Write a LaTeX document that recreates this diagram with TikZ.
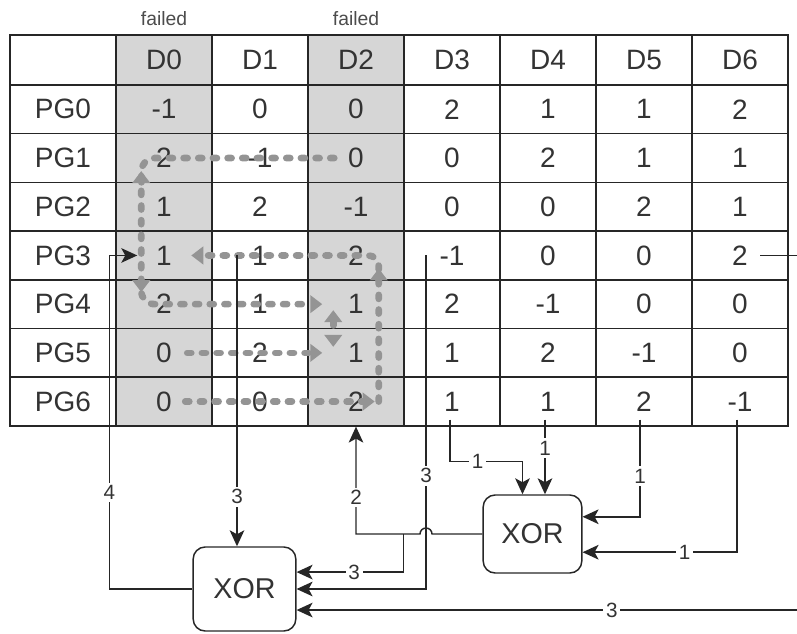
\documentclass[tikz,border=0pt]{standalone}
\usepackage{fontspec}
\setmainfont{Liberation Sans}
\usetikzlibrary{positioning, arrows.meta, backgrounds, calc}
\tikzstyle{cell} = [rectangle, draw=black!85, line width=1.1pt, minimum width=72pt, minimum height=36.5pt, inner sep=0pt, text=black!80, font=\fontsize{21}{24}\selectfont]
\tikzstyle{head} = [cell, minimum height=37.5pt]
\tikzstyle{rowlab} = [cell, minimum width=79.5pt]
\tikzstyle{failnote} = [text=black!70, font=\fontsize{14.5}{17}\selectfont]
\tikzstyle{xorbox} = [rectangle, rounded corners=9pt, draw=black!85, line width=1.1pt, text=black!80, font=\fontsize{21.5}{24}\selectfont]
\tikzstyle{wire} = [draw=black!85, line width=1.1pt]
\tikzstyle{arrow} = [wire, ->, >={Stealth[length=12pt,width=11pt,inset=3pt]}]
\tikzstyle{lbl} = [fill=white, inner sep=2pt, text=black!80, font=\fontsize{15.5}{18}\selectfont]
\tikzstyle{flow} = [draw=black!42, line width=5pt, line cap=round, dash pattern=on 3pt off 8pt]
\tikzstyle{flowarrow} = [flow, -{Triangle[length=9pt,width=13pt]}]
\colorlet{failcol}{black!16}

\begin{document}
\begin{tikzpicture}[x=0.75pt, y=-0.75pt]
\useasboundingbox (0,0) rectangle (797,633);

% table head
\node (corner) [rowlab, minimum height=37.5pt] at (63,60) {};
\foreach \c in {0,...,6}
    \node (hd\c) [head] at ({164+96*\c},60) {D\c};
\node (fail0) [failnote, above=3pt of hd0] {failed};
\node (fail2) [failnote, above=3pt of hd2] {failed};

% table body
\foreach \r/\vals in {0/{-1,0,0,2,1,1,2}, 1/{2,-1,0,0,2,1,1}, 2/{1,2,-1,0,0,2,1}, 3/{1,1,2,-1,0,0,2}, 4/{2,1,1,2,-1,0,0}, 5/{0,2,1,1,2,-1,0}, 6/{0,0,2,1,1,2,-1}} {
    \node (pg\r) [rowlab] at (63,{109.35+48.7*\r}) {PG\r};
    \foreach \v [count=\c from 0] in \vals
        \node (d\c-\r) [cell] at ({164+96*\c},{109.35+48.7*\r}) {\v};
}

% failed disks
\begin{scope}[on background layer]
    \fill[failcol] (hd0.north west) rectangle (d0-6.south east);
    \fill[failcol] (hd2.north west) rectangle (d2-6.south east);
\end{scope}

% xor gates
\node (xor1) [xorbox, minimum width=77pt, minimum height=63pt] at (244.5,589) {XOR};
\node (xor2) [xorbox, minimum width=74pt, minimum height=58.5pt] at (532.5,534) {XOR};

% recovery order
\draw[flowarrow, rounded corners=10pt] ($(d2-1.west)+(27,0)$) -| ($(d0-4.west)+(26,0)$) -- ($(d2-4.west)+(15,0)$);
\draw[flowarrow] ($(d0-1.west)+(26,22)$) -- ($(d0-1.west)+(26,13)$);
\draw[flowarrow] ($(d0-4.west)+(26,-22)$) -- ($(d0-4.west)+(26,-12)$);
\draw[flowarrow] ($(d0-5.west)+(72,0)$) -- ($(d2-5.west)+(15,0)$);
\draw[flow, {Triangle[length=9pt,width=13pt]}-{Triangle[length=9pt,width=13pt]}] ($(d2-4.west)+(26,6)$) -- ($(d2-5.west)+(26,-6)$);
\draw[flowarrow, rounded corners=8pt] ($(d2-6.east)+(-26,0)$) |- ($(d0-3.west)+(76,0)$);
\draw[flowarrow] ($(d2-3.east)+(-26,24)$) -- ($(d2-3.east)+(-26,13)$);
\draw[flowarrow] ($(d0-6.west)+(70,0)$) -- ($(d2-6.east)+(-30,0)$);

% xor outputs and inputs
\coordinate (rim) at (797,0);
\coordinate (t1) at ($(d1-3)+(-23,0)$);
\coordinate (t3) at ($(d3-3)+(-26,0)$);
\coordinate (hop) at (t3 |- xor2.west);
\coordinate (br) at (d3-6.south west |- xor2.west);
\draw[arrow] (xor1.west) -| node[lbl, pos=0.645] {4} ($(d0-3.west)+(-6,0)$) -- ($(d0-3.west)+(22,0)$);
\draw[arrow] (t1) -- node[lbl, pos=0.83] {3} (t1 |- xor1.north);
\draw[arrow] (t3) |- node[lbl, pos=0.33] {3} (xor1.east);
\draw[arrow] (xor2.west) -- ($(hop)+(6,0)$) arc[start angle=0, end angle=180, radius=4.5pt] -| node[lbl, pos=0.67] {2} (d2-6.south);
\draw[arrow] (br) |- node[lbl, pos=0.73] {3} (xor1.18);
\draw[wire] ($(d6-3)+(20,0)$) -- (d6-3 -| rim);
\draw[arrow] (rim |- xor1.-22) -- node[lbl, pos=0.37] {3} (xor1.-22);

\coordinate (s3) at ($(d3-6.south)+(-2,-7)$);
\coordinate (j3) at ($(xor2.north)+(-10,-33)$);
\coordinate (s4) at ($(d4-6.south)+(-3,-7)$);
\coordinate (s5) at ($(d5-6.south)+(-4,-7)$);
\coordinate (s6) at ($(d6-6.south)+(-3,-7)$);
\draw[arrow] (s3) |- node[lbl, pos=0.69] {1} (j3) -- (j3 |- xor2.north);
\draw[arrow] (s4) -- node[lbl, pos=0.38] {1} (s4 |- xor2.north);
\draw[arrow] (s5) |- node[lbl, pos=0.29] {1} (xor2.19);
\draw[arrow] (s6) |- node[lbl, pos=0.67] {1} (xor2.-20);
\end{tikzpicture}
\end{document}
